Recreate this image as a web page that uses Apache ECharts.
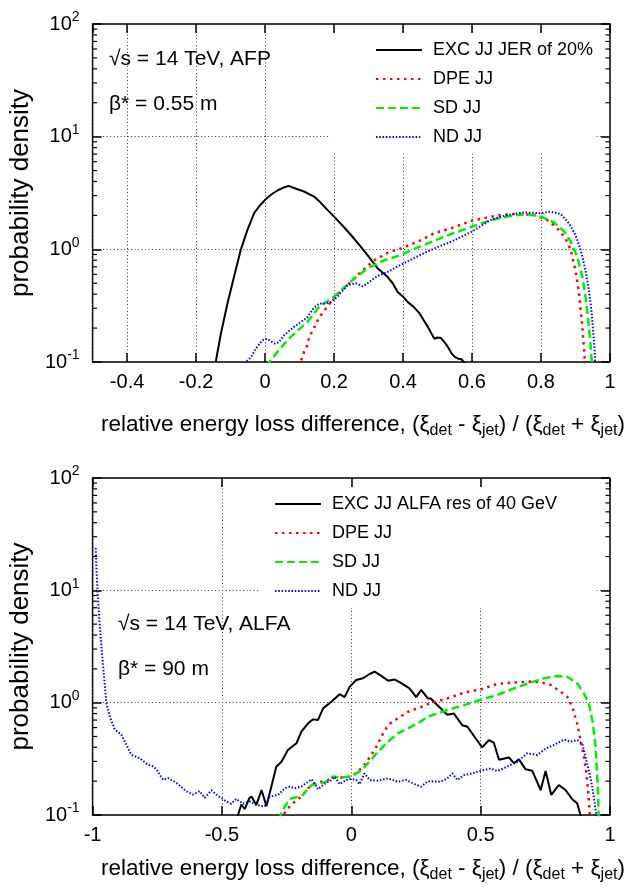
<!DOCTYPE html>
<html><head><meta charset="utf-8">
<script src="https://cdn.jsdelivr.net/npm/echarts@6/dist/echarts.min.js"></script>
<style>html,body{margin:0;padding:0;background:#fff}#c{width:627px;height:887px}</style>
</head><body><div id="c"></div>
<script>
// ---------- data ----------
const topNames = ['EXC JJ JER of 20%', 'DPE JJ', 'SD JJ', 'ND JJ'];
const botNames = ['EXC JJ ALFA res of 40 GeV', 'DPE JJ', 'SD JJ', 'ND JJ'];
const topAnnot = ['\u221As = 14 TeV, AFP', '\u03B2* = 0.55 m'];
const botAnnot = ['\u221As = 14 TeV, ALFA', '\u03B2* = 90 m'];
const xTitle = 'relative energy loss difference, (\u03BE{sub|det} - \u03BE{sub|jet}) / (\u03BE{sub|det} + \u03BE{sub|jet})';
const yTitle = 'probability density';
const minorTickValues = [0.2,0.3,0.4,0.5,0.6,0.7,0.8,0.9,2,3,4,5,6,7,8,9,20,30,40,50,60,70,80,90];

const topExc = [[-0.143,0.1],[-0.128,0.179],[-0.109,0.33],[-0.09,0.571],[-0.07,1.0],[-0.051,1.49],[-0.032,2.09],[-0.015,2.45],[0.0,2.75],[0.02,3.1],[0.036,3.33],[0.055,3.55],[0.068,3.66],[0.09,3.45],[0.113,3.26],[0.142,2.94],[0.161,2.6],[0.18,2.25],[0.2,1.95],[0.225,1.62],[0.249,1.34],[0.275,1.08],[0.297,0.89],[0.326,0.68],[0.355,0.57],[0.37,0.5],[0.384,0.42],[0.4,0.38],[0.414,0.34],[0.43,0.31],[0.448,0.27],[0.46,0.235],[0.472,0.205],[0.482,0.18],[0.491,0.161],[0.5,0.165],[0.51,0.163],[0.52,0.15],[0.53,0.136],[0.54,0.12],[0.55,0.111],[0.56,0.107],[0.569,0.106],[0.578,0.098],[0.59,0.08]];
const topDpe = [[0.1,0.09],[0.103,0.1],[0.113,0.123],[0.122,0.14],[0.128,0.167],[0.142,0.2],[0.157,0.25],[0.166,0.27],[0.19,0.34],[0.21,0.4],[0.229,0.45],[0.25,0.52],[0.268,0.59],[0.29,0.68],[0.317,0.8],[0.355,0.93],[0.394,1.02],[0.443,1.17],[0.491,1.39],[0.54,1.54],[0.6,1.8],[0.635,1.89],[0.683,2.02],[0.731,2.06],[0.78,2.02],[0.818,1.82],[0.847,1.54],[0.871,1.25],[0.886,0.99],[0.9,0.65],[0.91,0.41],[0.918,0.235],[0.925,0.127],[0.927,0.1],[0.93,0.08]];
const topSd = [[0.008,0.09],[0.012,0.1],[0.036,0.123],[0.065,0.156],[0.094,0.19],[0.123,0.227],[0.142,0.27],[0.157,0.31],[0.2,0.38],[0.249,0.52],[0.297,0.68],[0.346,0.8],[0.394,0.89],[0.443,1.04],[0.491,1.19],[0.54,1.37],[0.6,1.59],[0.654,1.82],[0.712,1.98],[0.76,2.05],[0.8,1.95],[0.838,1.73],[0.867,1.44],[0.886,1.17],[0.905,0.86],[0.92,0.57],[0.929,0.38],[0.937,0.235],[0.944,0.136],[0.947,0.1],[0.95,0.08]];
const topNd = [[-0.06,0.09],[-0.056,0.1],[-0.042,0.109],[-0.027,0.131],[-0.008,0.156],[0.007,0.161],[0.026,0.146],[0.041,0.15],[0.055,0.173],[0.084,0.205],[0.103,0.225],[0.123,0.25],[0.14,0.3],[0.157,0.33],[0.171,0.33],[0.19,0.34],[0.21,0.38],[0.239,0.48],[0.263,0.5],[0.283,0.47],[0.297,0.5],[0.326,0.58],[0.355,0.63],[0.394,0.73],[0.443,0.87],[0.491,1.02],[0.54,1.17],[0.6,1.44],[0.654,1.82],[0.702,2.02],[0.751,2.13],[0.8,2.09],[0.828,2.16],[0.857,2.06],[0.881,1.7],[0.9,1.34],[0.915,0.99],[0.929,0.65],[0.939,0.43],[0.947,0.27],[0.954,0.146],[0.957,0.1],[0.96,0.08]];

const botExc = [[-0.445,0.09],[-0.438,0.1],[-0.425,0.124],[-0.412,0.113],[-0.395,0.14],[-0.386,0.146],[-0.367,0.123],[-0.347,0.167],[-0.328,0.12],[-0.309,0.179],[-0.29,0.269],[-0.27,0.298],[-0.245,0.379],[-0.212,0.435],[-0.193,0.552],[-0.167,0.655],[-0.148,0.71],[-0.129,0.70],[-0.109,0.89],[-0.077,1.02],[-0.045,1.19],[-0.026,1.12],[-0.006,1.39],[0.019,1.59],[0.045,1.65],[0.071,1.8],[0.09,1.89],[0.116,1.73],[0.142,1.57],[0.167,1.61],[0.193,1.49],[0.225,1.34],[0.251,1.12],[0.27,1.3],[0.296,1.09],[0.307,1.09],[0.339,0.92],[0.371,0.78],[0.397,0.8],[0.429,0.63],[0.449,0.61],[0.481,0.48],[0.506,0.4],[0.532,0.465],[0.551,0.44],[0.571,0.31],[0.609,0.325],[0.629,0.29],[0.648,0.313],[0.674,0.255],[0.699,0.248],[0.732,0.167],[0.751,0.246],[0.773,0.151],[0.802,0.185],[0.828,0.167],[0.854,0.138],[0.873,0.127],[0.886,0.1],[0.89,0.09]];
const botDpe = [[-0.27,0.09],[-0.264,0.1],[-0.245,0.115],[-0.219,0.131],[-0.193,0.146],[-0.167,0.173],[-0.142,0.19],[-0.116,0.198],[-0.09,0.205],[-0.071,0.216],[-0.039,0.216],[0,0.22],[0.026,0.243],[0.051,0.279],[0.077,0.342],[0.097,0.406],[0.116,0.498],[0.135,0.59],[0.154,0.664],[0.18,0.725],[0.219,0.83],[0.257,0.89],[0.296,0.97],[0.307,0.99],[0.371,1.09],[0.436,1.23],[0.5,1.31],[0.564,1.47],[0.629,1.51],[0.693,1.54],[0.732,1.52],[0.77,1.44],[0.809,1.25],[0.835,1.13],[0.854,0.92],[0.873,0.655],[0.886,0.47],[0.899,0.33],[0.909,0.235],[0.915,0.167],[0.922,0.1],[0.925,0.085]];
const botSd = [[-0.28,0.09],[-0.273,0.1],[-0.257,0.119],[-0.238,0.138],[-0.206,0.146],[-0.187,0.151],[-0.167,0.173],[-0.148,0.188],[-0.129,0.188],[-0.097,0.198],[-0.071,0.22],[-0.039,0.216],[0,0.22],[0.039,0.25],[0.064,0.288],[0.103,0.366],[0.142,0.45],[0.18,0.533],[0.219,0.59],[0.257,0.655],[0.296,0.75],[0.371,0.86],[0.436,0.95],[0.5,1.06],[0.564,1.17],[0.629,1.34],[0.693,1.51],[0.745,1.65],[0.796,1.73],[0.835,1.7],[0.873,1.49],[0.899,1.21],[0.918,0.99],[0.934,0.655],[0.944,0.41],[0.95,0.235],[0.954,0.156],[0.956,0.1],[0.958,0.085]];
const botNd = [[-0.988,23.8],[-0.985,15.3],[-0.981,10],[-0.975,5.9],[-0.966,3.17],[-0.957,1.84],[-0.947,1.0],[-0.934,0.755],[-0.914,0.575],[-0.889,0.52],[-0.869,0.42],[-0.85,0.344],[-0.818,0.32],[-0.786,0.28],[-0.766,0.271],[-0.753,0.254],[-0.728,0.206],[-0.708,0.213],[-0.676,0.193],[-0.638,0.163],[-0.612,0.152],[-0.586,0.163],[-0.567,0.142],[-0.541,0.166],[-0.522,0.152],[-0.503,0.142],[-0.483,0.132],[-0.464,0.126],[-0.445,0.139],[-0.419,0.126],[-0.393,0.132],[-0.367,0.123],[-0.335,0.119],[-0.315,0.146],[-0.283,0.151],[-0.257,0.173],[-0.238,0.179],[-0.219,0.173],[-0.193,0.179],[-0.167,0.198],[-0.154,0.208],[-0.142,0.19],[-0.129,0.169],[-0.109,0.185],[-0.077,0.205],[-0.064,0.219],[-0.045,0.188],[-0.019,0.205],[0,0.21],[0.019,0.205],[0.032,0.188],[0.051,0.235],[0.071,0.205],[0.103,0.202],[0.142,0.212],[0.18,0.198],[0.212,0.205],[0.245,0.188],[0.27,0.179],[0.296,0.2],[0.346,0.198],[0.371,0.212],[0.391,0.235],[0.41,0.205],[0.436,0.227],[0.468,0.235],[0.5,0.248],[0.539,0.26],[0.564,0.246],[0.603,0.27],[0.642,0.298],[0.68,0.354],[0.719,0.342],[0.751,0.39],[0.783,0.42],[0.822,0.47],[0.847,0.45],[0.873,0.465],[0.893,0.43],[0.905,0.33],[0.918,0.25],[0.931,0.18],[0.941,0.127],[0.947,0.1],[0.95,0.085]];

// ---------- styling ----------
const FONT = '"Liberation Sans", Arial, Helvetica, sans-serif';
const styles = [
  {color: '#000000', width: 2, type: 'solid'},
  {color: '#ff0000', width: 2.5, type: [2.5, 4.5]},
  {color: '#00ee00', width: 2.5, type: [8, 4]},
  {color: '#0000ff', width: 2, type: [1.5, 1.8]}
];
const gridLine = {show: true, lineStyle: {color: '#333', width: 1, type: [1, 2.5]}};
const majorTick = {show: true, inside: true, length: 9, lineStyle: {color: '#000', width: 1.5}};

function yFmt(v) { return '10{sup|' + Math.round(Math.log10(v)) + '}'; }
const yLabelRich = {sup: {fontSize: 14, lineHeight: 14, padding: [0, 0, 13, 0], fontFamily: FONT, color: '#000'}};

function xAxes(gridIndex, min, max, opts) {
  const base = {
    gridIndex, type: 'value', min, max,
    axisLine: {show: false, onZero: false},
    axisTick: majorTick,
    splitLine: {show: false}
  };
  return [
    Object.assign({}, base, opts, {
      position: 'bottom', splitLine: gridLine,
      axisLabel: Object.assign({show: true, fontSize: 20, fontFamily: FONT, color: '#000', margin: 10}, opts.axisLabel || {})
    }),
    Object.assign({}, base, opts, {position: 'top', axisLabel: {show: false}})
  ];
}
function yAxes(gridIndex) {
  const base = {
    gridIndex, type: 'log', logBase: 10, min: 0.1, max: 100,
    axisLine: {show: false, onZero: false},
    axisTick: majorTick,
    splitLine: {show: false}, minorTick: {show: false}
  };
  return [
    Object.assign({}, base, {
      position: 'left', splitLine: gridLine,
      name: yTitle, nameLocation: 'middle', nameGap: 40,
      nameTextStyle: {fontSize: 26, fontFamily: FONT, color: '#000'},
      axisLabel: {show: true, formatter: yFmt, rich: yLabelRich, fontSize: 20, fontFamily: FONT, color: '#000', margin: 13}
    }),
    Object.assign({}, base, {position: 'right', axisLabel: {show: false}})
  ];
}
function curve(name, data, s, xi, yi) {
  return {
    name, type: 'line', data, xAxisIndex: xi, yAxisIndex: yi,
    showSymbol: false, symbol: 'none', smooth: false, z: 3,
    lineStyle: {color: s.color, width: s.width, type: s.type},
    itemStyle: {color: s.color}, emphasis: {disabled: true}
  };
}
function minorTicks(xi, yi) {
  return {
    type: 'custom', xAxisIndex: xi, yAxisIndex: yi, silent: true, z: 6,
    data: minorTickValues.map(v => [0, v]),
    renderItem(params, api) {
      const cs = params.coordSys;
      const y = api.coord([api.value(0), api.value(1)])[1];
      return {type: 'group', children: [
        {type: 'line', shape: {x1: cs.x, y1: y, x2: cs.x + 4.5, y2: y}, style: {stroke: '#000', lineWidth: 1.2}},
        {type: 'line', shape: {x1: cs.x + cs.width - 4.5, y1: y, x2: cs.x + cs.width, y2: y}, style: {stroke: '#000', lineWidth: 1.2}}
      ]};
    }
  };
}
function legendBox(names, left, top, padding) {
  return {
    data: names, orient: 'vertical', left, top, padding,
    backgroundColor: '#fff', itemWidth: 46, itemHeight: 14, itemGap: 11,
    selectedMode: false, z: 4,
    itemStyle: {color: 'rgba(0,0,0,0)', borderWidth: 0, opacity: 0},
    textStyle: {fontSize: 18, lineHeight: 14, fontFamily: FONT, color: '#000', padding: [0, 0, 0, 6]}
  };
}
const annotStyle = {fontSize: 21, fontFamily: FONT, fill: '#000'};
function annot(text, x, y) {
  return {type: 'text', x, y, z: 10, style: Object.assign({text, align: 'left', verticalAlign: 'middle'}, annotStyle)};
}
function xTitleText(x, y) {
  return {type: 'text', x, y, z: 10, style: {
    text: xTitle, align: 'center', verticalAlign: 'middle', fontSize: 22.5, fontFamily: FONT, fill: '#000',
    rich: {sub: {fontSize: 16, lineHeight: 16, padding: [12, 0, 0, 0], fontFamily: FONT, fill: '#000'}}
  }};
}

const chart = echarts.init(document.getElementById('c'), null, {renderer: 'canvas'});
chart.setOption({
  animation: false,
  backgroundColor: '#fff',
  grid: [
    {left: 92, top: 24, width: 518, height: 338, show: true, borderColor: '#000', borderWidth: 1.5, backgroundColor: 'transparent'},
    {left: 92, top: 478, width: 518, height: 337, show: true, borderColor: '#000', borderWidth: 1.5, backgroundColor: 'transparent'}
  ],
  xAxis: [
    ...xAxes(0, -0.5, 1, {splitNumber: 7, axisLabel: {showMinLabel: false}}),
    ...xAxes(1, -1, 1, {interval: 0.5})
  ],
  yAxis: [...yAxes(0), ...yAxes(1)],
  legend: [
    legendBox(topNames, 330, 34, [7, 3, 6, 45]),
    legendBox(botNames, 260, 488, [7, 39, 8, 14])
  ],
  series: [
    curve(topNames[0], topExc, styles[0], 0, 0),
    curve(topNames[1], topDpe, styles[1], 0, 0),
    curve(topNames[2], topSd, styles[2], 0, 0),
    curve(topNames[3], topNd, styles[3], 0, 0),
    curve(botNames[0], botExc, styles[0], 2, 2),
    curve(botNames[1], botDpe, styles[1], 2, 2),
    curve(botNames[2], botSd, styles[2], 2, 2),
    curve(botNames[3], botNd, styles[3], 2, 2),
    minorTicks(0, 0),
    minorTicks(2, 2)
  ],
  graphic: [
    annot(topAnnot[0], 109, 59),
    annot(topAnnot[1], 109, 104),
    annot(botAnnot[0], 118, 624),
    annot(botAnnot[1], 118, 669),
    xTitleText(363, 425),
    xTitleText(363, 869)
  ]
});
</script></body></html>
